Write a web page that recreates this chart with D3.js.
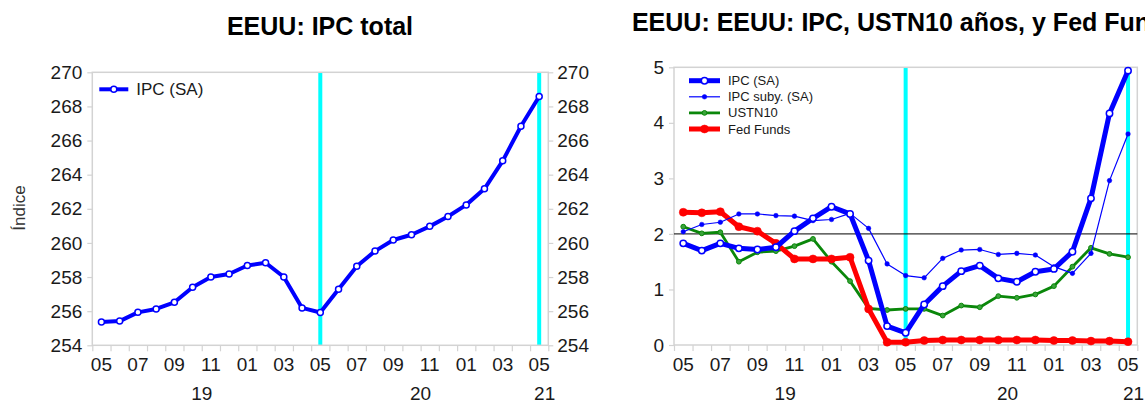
<!DOCTYPE html>
<html>
<head>
<meta charset="utf-8">
<script src="https://cdn.jsdelivr.net/npm/d3@7"></script>
<style>
  body { margin: 0; background: #fff; }
  svg { display: block; font-family: "Liberation Sans", Arial, sans-serif; }
</style>
</head>
<body>
<div id="chart"></div>
<script>
// Meses (mayo 2019 - mayo 2021)
const monthLabels = ["05","06","07","08","09","10","11","12","01","02","03","04",
  "05","06","07","08","09","10","11","12","01","02","03","04","05"];
const yearLabels = ["19", "20", "21"];
const yearAt = [6, 18, 24.8]; // posición en meses desde el inicio del eje
const markMonths = [12, 24]; // líneas cian (mayo 2020, mayo 2021)

// IPC total (índice, SA)
const ipcIndex = [255.37, 255.42, 255.93, 256.13, 256.52, 257.40, 258.00, 258.18,
  258.68, 258.84, 258.00, 256.19, 255.92, 257.28, 258.63, 259.52, 260.17, 260.48,
  260.97, 261.55, 262.23, 263.17, 264.81, 266.84, 268.58];

// Variaciones anuales y tasas (%)
const ipcYoY = [1.83, 1.70, 1.83, 1.74, 1.72, 1.76, 2.05, 2.28, 2.49, 2.36, 1.52,
  0.34, 0.22, 0.73, 1.06, 1.33, 1.43, 1.20, 1.14, 1.32, 1.37, 1.68, 2.64, 4.17, 4.94];
const coreYoY = [2.04, 2.17, 2.21, 2.36, 2.36, 2.33, 2.32, 2.24, 2.26, 2.37, 2.10,
  1.46, 1.25, 1.21, 1.56, 1.71, 1.72, 1.63, 1.65, 1.62, 1.41, 1.29, 1.65, 2.96, 3.80];
const ust10 = [2.13, 2.01, 2.03, 1.50, 1.67, 1.69, 1.78, 1.91, 1.50, 1.15, 0.66,
  0.63, 0.65, 0.65, 0.53, 0.71, 0.68, 0.88, 0.85, 0.91, 1.06, 1.41, 1.75, 1.64, 1.58];
const fedFunds = [2.39, 2.38, 2.40, 2.13, 2.05, 1.83, 1.55, 1.55, 1.55, 1.58, 0.65,
  0.05, 0.05, 0.08, 0.09, 0.09, 0.09, 0.09, 0.09, 0.09, 0.08, 0.08, 0.07, 0.07, 0.06];

const leftTicks = d3.range(254, 271, 2);
const rightTicks = [0, 1, 2, 3, 4, 5];

const W = 1145, H = 405;
const grey = "#d3d3d3";
const txt = "#1a1a1a";

const svg = d3.select("#chart").append("svg")
  .attr("width", W).attr("height", H);

// dibuja marco, ejes de meses, años y líneas cian
function panel(g, x, y, yTicks, yFmt, rightAxis) {
  const [x0, x1] = x.range();
  const [y0, y1] = y.range();

  // líneas cian
  g.selectAll(".mark").data(markMonths).enter().append("line")
    .attr("x1", d => x(d + 0.5)).attr("x2", d => x(d + 0.5))
    .attr("y1", y1).attr("y2", y0)
    .attr("stroke", "#00ffff").attr("stroke-width", 4);

  // marco
  g.append("rect")
    .attr("x", x0).attr("y", y1).attr("width", x1 - x0).attr("height", y0 - y1)
    .attr("fill", "none").attr("stroke", grey).attr("stroke-width", 1.5);

  // eje x
  const ax = g.append("g").attr("transform", "translate(0," + y0 + ")")
    .call(d3.axisBottom(x).tickValues(d3.range(0, 26)).tickSize(6).tickFormat(""));
  ax.select(".domain").remove();
  ax.selectAll("line").attr("stroke", grey).attr("stroke-width", 1.2);

  g.selectAll(".mlab").data(monthLabels).enter().append("text")
    .filter((d, i) => i % 2 === 0)
    .attr("x", (d, i) => x(i * 2 + 0.5))
    .attr("y", y0 + 26)
    .attr("text-anchor", "middle")
    .attr("font-size", 19).attr("fill", txt)
    .text(d => d);

  g.selectAll(".ylab").data(yearLabels).enter().append("text")
    .attr("x", (d, i) => x(yearAt[i]))
    .attr("y", y0 + 55)
    .attr("text-anchor", "middle")
    .attr("font-size", 19).attr("fill", txt)
    .text(d => d);

  // eje y izquierdo
  const ay = g.append("g").attr("transform", "translate(" + x0 + ",0)")
    .call(d3.axisLeft(y).tickValues(yTicks).tickSize(5).tickPadding(5).tickFormat(yFmt));
  ay.select(".domain").remove();
  ay.selectAll("line").attr("stroke", grey).attr("stroke-width", 1.2);
  ay.selectAll("text").attr("font-size", 19).attr("fill", txt)
    .attr("font-family", "Liberation Sans, Arial, sans-serif");

  if (rightAxis) {
    const ar = g.append("g").attr("transform", "translate(" + x1 + ",0)")
      .call(d3.axisRight(y).tickValues(yTicks).tickSize(5).tickPadding(4).tickFormat(yFmt));
    ar.select(".domain").remove();
    ar.selectAll("line").attr("stroke", grey).attr("stroke-width", 1.2);
    ar.selectAll("text").attr("font-size", 19).attr("fill", txt)
      .attr("font-family", "Liberation Sans, Arial, sans-serif");
  }
}

function series(g, x, y, values, st) {
  const line = d3.line().x((d, i) => x(i + 0.5)).y(d => y(d));
  g.append("path").datum(values)
    .attr("d", line)
    .attr("fill", "none")
    .attr("stroke", st.color)
    .attr("stroke-width", st.width)
    .attr("stroke-linejoin", "round");
  g.selectAll(null).data(values).enter().append("circle")
    .attr("cx", (d, i) => x(i + 0.5))
    .attr("cy", d => y(d))
    .attr("r", st.r)
    .attr("fill", st.fill)
    .attr("stroke", st.color)
    .attr("stroke-width", st.sw);
}

function legend(g, items, lx, ly, step, len, fs) {
  items.forEach((it, k) => {
    const yy = ly + k * step;
    g.append("line")
      .attr("x1", lx).attr("x2", lx + len).attr("y1", yy).attr("y2", yy)
      .attr("stroke", it.st.color).attr("stroke-width", it.st.width);
    g.append("circle")
      .attr("cx", lx + len / 2).attr("cy", yy).attr("r", it.st.r)
      .attr("fill", it.st.fill).attr("stroke", it.st.color).attr("stroke-width", it.st.sw);
    g.append("text")
      .attr("x", lx + len + 8).attr("y", yy)
      .attr("dy", "0.35em")
      .attr("font-size", fs).attr("fill", txt)
      .text(it.name);
  });
}

// ---------- Panel izquierdo ----------
const gL = svg.append("g");
const xL = d3.scaleLinear().domain([0, 25]).range([92.3, 548.3]);
const yL = d3.scaleLinear().domain([254, 270]).range([345.3, 72.3]);

panel(gL, xL, yL, leftTicks, d3.format("d"), true);

const stIpcL = { color: "#0000ff", width: 4, r: 3, fill: "#fff", sw: 1.5 };
series(gL, xL, yL, ipcIndex, stIpcL);
legend(gL, [{ name: "IPC (SA)", st: stIpcL }], 99.3, 89.3, 0, 29, 17);

gL.append("text")
  .attr("x", 320).attr("y", 35)
  .attr("text-anchor", "middle")
  .attr("font-size", 25).attr("font-weight", "bold").attr("fill", "#000")
  .text("EEUU: IPC total");

gL.append("text")
  .attr("transform", "translate(25,208) rotate(-90)")
  .attr("text-anchor", "middle")
  .attr("font-size", 17).attr("fill", "#333")
  .text("Índice");

// ---------- Panel derecho ----------
const gR = svg.append("g");
const xR = d3.scaleLinear().domain([0, 25]).range([674, 1137.3]);
const yR = d3.scaleLinear().domain([0, 5]).range([345, 67.3]);

panel(gR, xR, yR, rightTicks, d3.format("d"), false);

gR.append("line")
  .attr("x1", xR(0)).attr("x2", xR(25))
  .attr("y1", yR(2)).attr("y2", yR(2))
  .attr("stroke", "#000").attr("stroke-width", 1);

const stIpc = { color: "#0000ff", width: 5, r: 3.2, fill: "#fff", sw: 1.5 };
const stCore = { color: "#0000ff", width: 1.2, r: 2.3, fill: "#0000ff", sw: 0.5 };
const stUst = { color: "#0a870a", width: 2.8, r: 2.4, fill: "#3aa33a", sw: 1 };
const stFed = { color: "#ff0000", width: 5, r: 4, fill: "#ff0000", sw: 0.5 };

series(gR, xR, yR, ust10, stUst);
series(gR, xR, yR, fedFunds, stFed);
series(gR, xR, yR, coreYoY, stCore);
series(gR, xR, yR, ipcYoY, stIpc);

legend(gR, [
  { name: "IPC (SA)", st: stIpc },
  { name: "IPC suby. (SA)", st: stCore },
  { name: "USTN10", st: stUst },
  { name: "Fed Funds", st: stFed }
], 689, 80.7, 16.1, 31, 13);

gR.append("text")
  .attr("x", 905.6).attr("y", 31)
  .attr("text-anchor", "middle")
  .attr("font-size", 25).attr("font-weight", "bold").attr("fill", "#000")
  .text("EEUU: EEUU: IPC, USTN10 años, y Fed Funds");
</script>
</body>
</html>
